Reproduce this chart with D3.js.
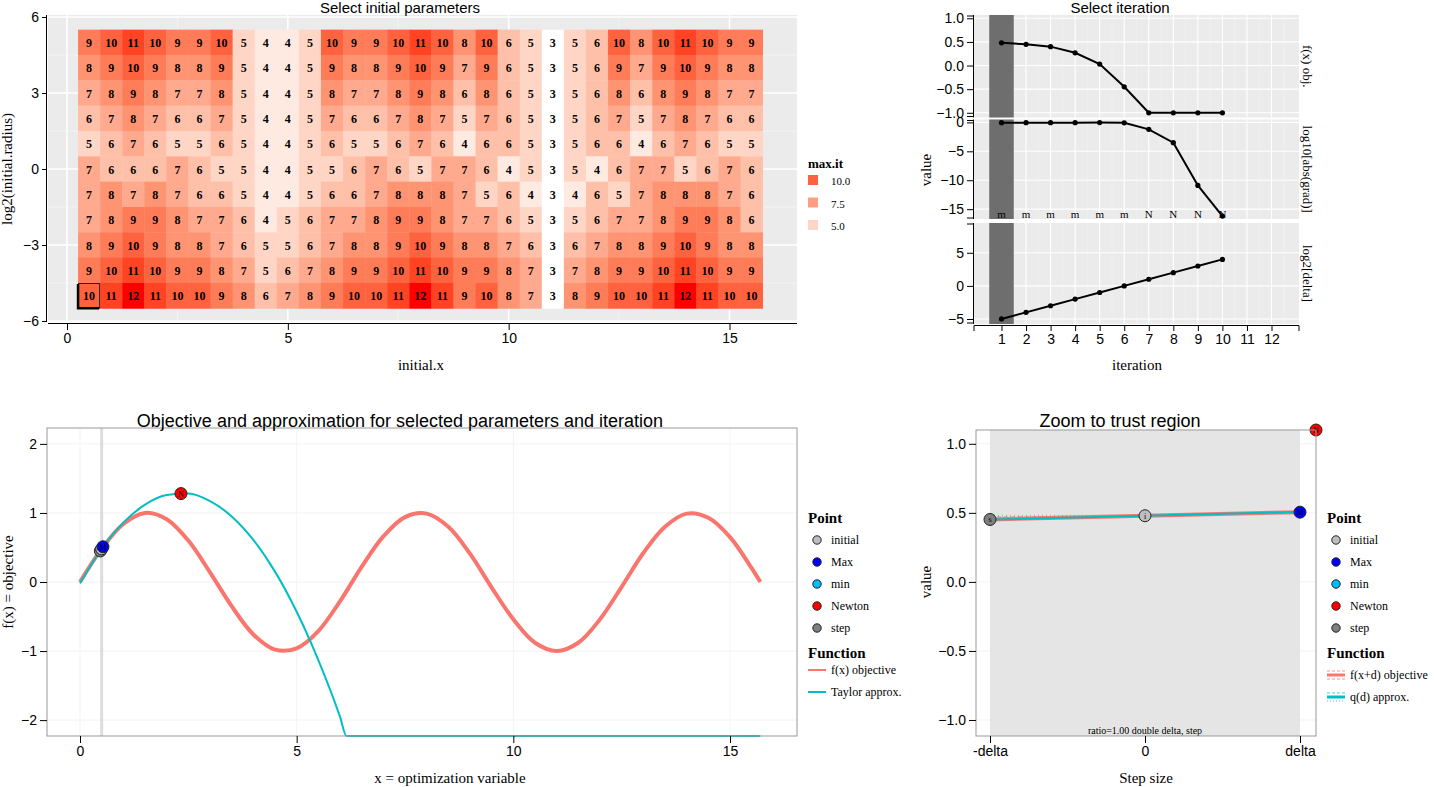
<!DOCTYPE html>
<html lang="en">
  <head>
    <meta charset="utf-8" />
    <title>Newton trust region</title>
    <script src="https://d3js.org/d3.v7.min.js"></script>
    <style>
      body { margin: 0; background: #fff; }
      svg text { fill: #000; }
      .axis path, .axis line { stroke: #000; }
      .axis text { font-family: "Liberation Sans", Arial, sans-serif; font-size: 14px; fill: #000; }
    </style>
  </head>
  <body>
    <div id="chart"></div>
    <script>
      // ---- heatmap data: max.it for each initial.x / log2(initial.radius)
      const initX = d3.range(31).map((i) => 0.5 + i * 0.5);
      const log2Radius = [5, 4, 3, 2, 1, 0, -1, -2, -3, -4, -5];
      const maxIt = [
        [9,10,11,10,9,9,10,5,4,4,5,10,9,9,10,11,10,8,10,6,5,3,5,6,10,8,10,11,10,9,9],
        [8,9,10,9,8,8,9,5,4,4,5,9,8,8,9,10,9,7,9,6,5,3,5,6,9,7,9,10,9,8,8],
        [7,8,9,8,7,7,8,5,4,4,5,8,7,7,8,9,8,6,8,6,5,3,5,6,8,6,8,9,8,7,7],
        [6,7,8,7,6,6,7,5,4,4,5,7,6,6,7,8,7,5,7,6,5,3,5,6,7,5,7,8,7,6,6],
        [5,6,7,6,5,5,6,5,4,4,5,6,5,5,6,7,6,4,6,6,5,3,5,6,6,4,6,7,6,5,5],
        [7,6,6,6,7,6,5,5,4,4,5,5,6,7,6,5,7,7,6,4,5,3,5,4,6,7,7,5,6,7,6],
        [7,8,7,8,7,6,6,5,4,4,5,6,6,7,8,8,8,7,5,6,4,3,4,6,5,7,8,8,8,7,6],
        [7,8,9,9,8,7,7,6,4,5,6,7,7,8,9,9,8,7,7,6,5,3,5,6,7,7,8,9,9,8,6],
        [8,9,10,9,8,8,7,6,5,5,6,7,8,8,9,10,9,8,8,7,6,3,6,7,8,8,9,10,9,8,8],
        [9,10,11,10,9,9,8,7,5,6,7,8,9,9,10,11,10,9,9,8,7,3,7,8,9,9,10,11,10,9,9],
        [10,11,12,11,10,10,9,8,6,7,8,9,10,10,11,12,11,9,10,8,7,3,8,9,10,10,11,12,11,10,10],
      ];
      const selected = { x: 0.5, y: -5, it: 1 };
      const legendMaxIt = [10, 7.5, 5];

      // ---- iteration panels
      const iterations = [1, 2, 3, 4, 5, 6, 7, 8, 9, 10];
      const fObj = [0.48, 0.45, 0.4, 0.27, 0.03, -0.45, -1.0, -1.0, -1.0, -1.0];
      const log10Grad = [-0.05, -0.05, -0.05, -0.05, -0.04, -0.07, -1.2, -3.5, -10.9, -16.2];
      const log2Delta = [-5, -4, -3, -2, -1, 0, 1, 2, 3, 4];
      const stepType = ["m", "m", "m", "m", "m", "m", "N", "N", "N", "N"];

      // ---- objective and Taylor approximation
      const objX = [0,0.5,1,1.5,2,2.5,3,3.5,4,4.5,5,5.5,6,6.5,7,7.5,8,8.5,9,9.5,10,10.5,11,11.5,12,12.5,13,13.5,14,14.5,15,15.5,15.7];
      const objY = [0,0.48,0.84,1.0,0.91,0.6,0.14,-0.35,-0.76,-0.98,-0.96,-0.71,-0.28,0.22,0.66,0.94,0.99,0.8,0.41,-0.08,-0.54,-0.88,-1.0,-0.88,-0.54,-0.07,0.42,0.8,0.99,0.93,0.65,0.2,0.0];
      const taylorX = [0,0.5,1,1.5,2,2.5,3,3.5,4,4.5,5,5.5,6,6.15,15.7];
      const taylorY = [-0.02,0.48,0.86,1.12,1.26,1.28,1.17,0.95,0.61,0.15,-0.43,-1.13,-1.95,-2.23,-2.23];

      const pointNames = ["initial", "Max", "min", "Newton", "step"];
      const pointColors = ["#BEBEBE", "#0000FF", "#00BFFF", "#FF0000", "#7F7F7F"];
      const pointLetters = ["i", "M", "m", "N", "s"];
      // points shown: [name, x, f]
      const mainPoints = [["step", 0.47, 0.45], ["initial", 0.5, 0.48], ["Max", 0.53, 0.51], ["Newton", 2.33, 1.28]];

      // ---- trust region zoom (d in units of delta)
      const zoomD = [-1, 0, 1];
      const zoomF = [0.452, 0.479, 0.505];
      const zoomQ = [0.451, 0.479, 0.507];
      const zoomPoints = [["step", -1, 0.452], ["initial", 0, 0.479], ["Max", 1, 0.505], ["Newton", 58.6, 1.28]];

      const W = 1434, H = 787;
      const svg = d3.select("#chart").append("svg").attr("width", W).attr("height", H);

      const serif = "Liberation Serif, Times New Roman, serif";
      const sans = "Liberation Sans, Arial, sans-serif";

      //----------------------------------------------------------------- heatmap
      const hx = d3.scaleLinear().domain([0, 15]).range([67, 729.5]);
      const hy = d3.scaleLinear().domain([6, -6]).range([17, 321]);
      const hp = { l: 48, r: 797, t: 15, b: 322 };
      svg.append("rect").attr("x", hp.l).attr("y", hp.t).attr("width", hp.r - hp.l).attr("height", hp.b - hp.t).attr("fill", "#EBEBEB");
      // grid
      [-4.5, -1.5, 1.5, 4.5].forEach((v) =>
        svg.append("line").attr("x1", hp.l).attr("x2", hp.r).attr("y1", hy(v)).attr("y2", hy(v)).attr("stroke", "#F5F5F5").attr("stroke-width", 0.8));
      [2.5, 7.5, 12.5].forEach((v) =>
        svg.append("line").attr("y1", hp.t).attr("y2", hp.b).attr("x1", hx(v)).attr("x2", hx(v)).attr("stroke", "#F5F5F5").attr("stroke-width", 0.8));
      [-6, -3, 0, 3, 6].forEach((v) =>
        svg.append("line").attr("x1", hp.l).attr("x2", hp.r).attr("y1", hy(v)).attr("y2", hy(v)).attr("stroke", "#fff").attr("stroke-width", 1.5));
      [0, 5, 10, 15].forEach((v) =>
        svg.append("line").attr("y1", hp.t).attr("y2", hp.b).attr("x1", hx(v)).attr("x2", hx(v)).attr("stroke", "#fff").attr("stroke-width", 1.5));

      const fill = d3.scaleLinear().domain([3, 12]).range(["#FFFFFF", "#FF0000"]).interpolate(d3.interpolateLab);
      const cw = hx(0.5) - hx(0), ch = hy(0) - hy(1);
      const cells = [];
      log2Radius.forEach((yv, r) => initX.forEach((xv, c) => cells.push({ x: xv, y: yv, v: maxIt[r][c] })));
      const cg = svg.append("g");
      cg.selectAll("rect").data(cells).enter().append("rect")
        .attr("x", (d) => hx(d.x) - cw / 2).attr("y", (d) => hy(d.y) - ch / 2)
        .attr("width", cw + 0.4).attr("height", ch + 0.4)
        .attr("fill", (d) => fill(d.v));
      cg.selectAll("text").data(cells).enter().append("text")
        .attr("x", (d) => hx(d.x)).attr("y", (d) => hy(d.y) + 4.5)
        .attr("text-anchor", "middle").style("font-family", serif).style("font-weight", "bold")
        .style("font-size", "12px").text((d) => d.v);
      // selected cell
      svg.append("rect").attr("x", hx(selected.x) - cw / 2 + 0.5).attr("y", hy(selected.y) - ch / 2 + 0.5)
        .attr("width", cw - 1).attr("height", ch - 1).attr("fill", "none").attr("stroke", "#222").attr("stroke-width", 1);
      svg.append("path")
        .attr("d", `M${hx(selected.x) - cw / 2},${hy(selected.y) - ch / 2 + 1}V${hy(selected.y) + ch / 2}H${hx(selected.x) + cw / 2 - 1}`)
        .attr("fill", "none").attr("stroke", "#000").attr("stroke-width", 2.5);

      svg.append("g").attr("class", "axis").attr("transform", `translate(0,${hp.b + 1})`)
        .call(d3.axisBottom(hx).tickValues([0, 5, 10, 15]).tickSize(7).tickSizeOuter(0))
        .call((g) => g.select(".domain").attr("d", `M${hp.l},0.5H${hp.r}`));
      svg.append("g").attr("class", "axis").attr("transform", `translate(${hp.l - 1},0)`)
        .call(d3.axisLeft(hy).tickValues([6, 3, 0, -3, -6]).tickSize(5).tickSizeOuter(0))
        .call((g) => g.select(".domain").attr("d", `M-0.5,${hp.t}V${hp.b}`));

      svg.append("text").attr("x", 400).attr("y", 13).attr("text-anchor", "middle").style("font-family", sans).style("font-size", "15px").text("Select initial parameters");
      svg.append("text").attr("x", 421).attr("y", 370).attr("text-anchor", "middle").style("font-family", serif).style("font-size", "15px").text("initial.x");
      svg.append("text").attr("transform", "translate(12,169) rotate(-90)").attr("text-anchor", "middle").style("font-family", serif).style("font-size", "15px").text("log2(initial.radius)");

      // legend max.it
      svg.append("text").attr("x", 808).attr("y", 168).style("font-family", serif).style("font-weight", "bold").style("font-size", "13px").text("max.it");
      legendMaxIt.forEach((v, i) => {
        svg.append("rect").attr("x", 808).attr("y", 175 + i * 22.5).attr("width", 10).attr("height", 10).attr("fill", fill(v));
        svg.append("text").attr("x", 831).attr("y", 185 + i * 22.5).style("font-family", serif).style("font-size", "11px").text(v.toFixed(1));
      });

      //----------------------------------------------------------------- iteration panels
      const ix = d3.scaleLinear().domain([-0.12, 13.12]).range([974, 1299]);
      const panels = [
        { name: "f(x) obj.", vals: fObj, t: 15, b: 117.5, dom: [-1.1, 1.07], ticks: [1, 0.5, 0, -0.5, -1], fmt: d3.format(".1f") },
        { name: "log10[abs(grad)]", vals: log10Grad, t: 119.5, b: 219, dom: [-16.7, 0.5], ticks: [0, -5, -10, -15], fmt: d3.format("d") },
        { name: "log2[delta]", vals: log2Delta, t: 223, b: 324, dom: [-5.76, 9.5], ticks: [5, 0, -5], fmt: d3.format("d") },
      ];
      const line = d3.line();
      panels.forEach((p, pi) => {
        const y = d3.scaleLinear().domain(p.dom).range([p.b, p.t]);
        svg.append("rect").attr("x", 974).attr("y", p.t).attr("width", 325).attr("height", p.b - p.t).attr("fill", "#EBEBEB");
        d3.range(0.5, 13, 1).forEach((v) =>
          svg.append("line").attr("x1", ix(v)).attr("x2", ix(v)).attr("y1", p.t).attr("y2", p.b).attr("stroke", "#F4F4F4").attr("stroke-width", 0.6));
        d3.range(1, 13).forEach((v) =>
          svg.append("line").attr("x1", ix(v)).attr("x2", ix(v)).attr("y1", p.t).attr("y2", p.b).attr("stroke", "#fff").attr("stroke-width", 1.1));
        p.ticks.forEach((v) =>
          svg.append("line").attr("x1", 974).attr("x2", 1299).attr("y1", y(v)).attr("y2", y(v)).attr("stroke", "#fff").attr("stroke-width", 1.1));
        // selected iteration band
        svg.append("rect").attr("x", ix(selected.it - 0.5)).attr("y", p.t).attr("width", ix(1) - ix(0)).attr("height", p.b - p.t).attr("fill", "#6E6E6E");
        const pts = iterations.map((it, i) => [ix(it), y(p.vals[i])]);
        svg.append("path").attr("d", line(pts)).attr("fill", "none").attr("stroke", "#000").attr("stroke-width", 2);
        svg.selectAll(null).data(pts).enter().append("circle").attr("cx", (d) => d[0]).attr("cy", (d) => d[1]).attr("r", 2.6).attr("fill", "#000");
        svg.append("g").attr("class", "axis").attr("transform", "translate(973,0)")
          .call(d3.axisLeft(y).tickValues(p.ticks).tickFormat(p.fmt).tickSize(6).tickSizeOuter(0))
          .call((g) => g.select(".domain").attr("d", `M0.5,${p.t}V${p.b}`));
        [p.t + 1, p.b - 1].forEach((v) =>
          svg.append("line").attr("x1", 967).attr("x2", 974).attr("y1", v).attr("y2", v).attr("stroke", "#000"));
        svg.append("text").attr("transform", `translate(1303,${(p.t + p.b) / 2}) rotate(90)`).attr("text-anchor", "middle")
          .style("font-family", serif).style("font-size", "13px").text(p.name);
        if (pi === 1) {
          svg.selectAll(null).data(stepType).enter().append("text")
            .attr("x", (d, i) => ix(iterations[i])).attr("y", p.b - 1).attr("text-anchor", "middle")
            .style("font-family", serif).style("font-size", "11px").text((d) => d);
        }
      });
      svg.append("g").attr("class", "axis").attr("transform", "translate(0,325)")
        .call(d3.axisBottom(ix).tickValues(d3.range(1, 13)).tickSize(6).tickSizeOuter(6))
        .call((g) => g.select(".domain").attr("d", "M974,6V0.5H1299V6"));
      svg.append("text").attr("x", 1120).attr("y", 13).attr("text-anchor", "middle").style("font-family", sans).style("font-size", "15px").text("Select iteration");
      svg.append("text").attr("x", 1137).attr("y", 370).attr("text-anchor", "middle").style("font-family", serif).style("font-size", "15px").text("iteration");
      svg.append("text").attr("transform", "translate(931,170) rotate(-90)").attr("text-anchor", "middle").style("font-family", serif).style("font-size", "15px").text("value");

      //----------------------------------------------------------------- helper for point markers
      function drawPoint(g, cx, cy, name) {
        const k = pointNames.indexOf(name);
        g.append("circle").attr("cx", cx).attr("cy", cy).attr("r", 6).attr("fill", pointColors[k]).attr("stroke", "#222").attr("stroke-width", 1);
        g.append("text").attr("x", cx).attr("y", cy + 3).attr("text-anchor", "middle").style("font-family", serif).style("font-size", "8px").text(pointLetters[k]);
      }
      function legend(x0, keyType) {
        svg.append("text").attr("x", x0).attr("y", 523).style("font-family", serif).style("font-weight", "bold").style("font-size", "15px").text("Point");
        pointNames.forEach((n, i) => {
          svg.append("circle").attr("cx", x0 + 9).attr("cy", 540 + i * 22).attr("r", 4.2).attr("fill", pointColors[i]).attr("stroke", "#222").attr("stroke-width", 1);
          svg.append("text").attr("x", x0 + 23).attr("y", 544 + i * 22).style("font-family", serif).style("font-size", "12px").text(n);
        });
        svg.append("text").attr("x", x0).attr("y", 658).style("font-family", serif).style("font-weight", "bold").style("font-size", "15px").text("Function");
        const labels = keyType ? ["f(x+d) objective", "q(d) approx."] : ["f(x) objective", "Taylor approx."];
        const cols = ["#F8766D", "#00BFC4"];
        labels.forEach((l, i) => {
          const yy = (keyType ? 675 : 670) + i * 22;
          if (keyType) {
            svg.append("line").attr("x1", x0).attr("x2", x0 + 18).attr("y1", yy - 4).attr("y2", yy - 4).attr("stroke", cols[i]).attr("stroke-opacity", 0.5).attr("stroke-dasharray", "3,2").attr("stroke-width", 1.5);
            svg.append("line").attr("x1", x0).attr("x2", x0 + 18).attr("y1", yy + 4).attr("y2", yy + 4).attr("stroke", cols[i]).attr("stroke-opacity", 0.5).attr("stroke-dasharray", i ? "1,2" : "3,2").attr("stroke-width", 1.5);
          }
          svg.append("line").attr("x1", x0).attr("x2", x0 + 18).attr("y1", yy).attr("y2", yy).attr("stroke", cols[i]).attr("stroke-width", keyType ? 3 : 2);
          svg.append("text").attr("x", x0 + 23).attr("y", yy + 4).style("font-family", serif).style("font-size", "12px").text(l);
        });
      }

      //----------------------------------------------------------------- objective plot
      const ox = d3.scaleLinear().domain([0, 15]).range([80, 730]);
      const oy = d3.scaleLinear().domain([-2.23, 2.23]).range([736, 428]);
      const op = { l: 47, r: 797, t: 428, b: 736 };
      const og = svg.append("g");
      [-2, -1, 0, 1, 2].forEach((v) => og.append("line").attr("x1", op.l).attr("x2", op.r).attr("y1", oy(v)).attr("y2", oy(v)).attr("stroke", "#F3F3F3"));
      [0, 5, 10, 15].forEach((v) => og.append("line").attr("y1", op.t).attr("y2", op.b).attr("x1", ox(v)).attr("x2", ox(v)).attr("stroke", "#F3F3F3"));
      og.append("line").attr("x1", ox(selected.x)).attr("x2", ox(selected.x)).attr("y1", op.t).attr("y2", op.b).attr("stroke", "#DDDDDD").attr("stroke-width", 3);
      const cl = d3.line().curve(d3.curveCatmullRom);
      og.append("path").attr("d", cl(objX.map((x, i) => [ox(x), oy(objY[i])]))).attr("fill", "none").attr("stroke", "#F8766D").attr("stroke-width", 4);
      og.append("path").attr("d", d3.line().curve(d3.curveMonotoneX)(taylorX.map((x, i) => [ox(x), oy(taylorY[i])]))).attr("fill", "none").attr("stroke", "#00BFC4").attr("stroke-width", 2);
      mainPoints.forEach((p) => drawPoint(og, ox(p[1]), oy(p[2]), p[0]));
      svg.append("rect").attr("x", op.l).attr("y", op.t).attr("width", op.r - op.l).attr("height", op.b - op.t).attr("fill", "none").attr("stroke", "#999").attr("stroke-width", 1);
      svg.append("g").attr("class", "axis").attr("transform", `translate(0,${op.b})`)
        .call(d3.axisBottom(ox).tickValues([0, 5, 10, 15]).tickSize(7).tickSizeOuter(0))
        .call((g) => g.select(".domain").remove());
      svg.append("g").attr("class", "axis").attr("transform", `translate(${op.l},0)`)
        .call(d3.axisLeft(oy).tickValues([2, 1, 0, -1, -2]).tickFormat(d3.format("d")).tickSize(7).tickSizeOuter(0))
        .call((g) => g.select(".domain").remove());
      svg.append("text").attr("x", 400).attr("y", 427).attr("text-anchor", "middle").style("font-family", sans).style("font-size", "18px").text("Objective and approximation for selected parameters and iteration");
      svg.append("text").attr("x", 450).attr("y", 783).attr("text-anchor", "middle").style("font-family", serif).style("font-size", "15px").text("x = optimization variable");
      svg.append("text").attr("transform", "translate(13,582) rotate(-90)").attr("text-anchor", "middle").style("font-family", serif).style("font-size", "15px").text("f(x) = objective");
      legend(808, false);

      //----------------------------------------------------------------- trust region zoom
      const zx = d3.scaleLinear().domain([-1, 1]).range([990, 1300]);
      const zy = d3.scaleLinear().domain([-1.116, 1.1]).range([736, 430]);
      const zp = { l: 976, r: 1316, t: 430, b: 736 };
      const zg = svg.append("g");
      [-1, -0.5, 0, 0.5, 1].forEach((v) => zg.append("line").attr("x1", zp.l).attr("x2", zp.r).attr("y1", zy(v)).attr("y2", zy(v)).attr("stroke", "#F3F3F3"));
      zg.append("rect").attr("x", zx(-1)).attr("y", zp.t).attr("width", zx(1) - zx(-1)).attr("height", zp.b - zp.t).attr("fill", "#E5E5E5");
      // step comparison (dashed) from -delta to 0
      zg.append("line").attr("x1", zx(-1)).attr("x2", zx(0)).attr("y1", zy(0.468)).attr("y2", zy(0.475)).attr("stroke", "#F8766D").attr("stroke-opacity", 0.6).attr("stroke-dasharray", "4,3").attr("stroke-width", 2);
      zg.append("line").attr("x1", zx(-1)).attr("x2", zx(0)).attr("y1", zy(0.48)).attr("y2", zy(0.478)).attr("stroke", "#00BFC4").attr("stroke-opacity", 0.6).attr("stroke-dasharray", "1,3").attr("stroke-width", 2);
      const zl = d3.line();
      zg.append("path").attr("d", zl(zoomD.map((d, i) => [zx(d), zy(zoomF[i])]))).attr("fill", "none").attr("stroke", "#F8766D").attr("stroke-width", 4);
      zg.append("path").attr("d", zl(zoomD.map((d, i) => [zx(d), zy(zoomQ[i])]))).attr("fill", "none").attr("stroke", "#00BFC4").attr("stroke-width", 2);
      zoomPoints.forEach((p) => {
        const cx = Math.min(zx(p[1]), zp.r), cy = Math.max(zy(p[2]), zp.t);
        drawPoint(zg, cx, cy, p[0]);
      });
      zg.append("text").attr("x", zx(0)).attr("y", 734).attr("text-anchor", "middle").style("font-family", serif).style("font-size", "10px").text("ratio=1.00 double delta, step");
      svg.append("rect").attr("x", zp.l).attr("y", zp.t).attr("width", zp.r - zp.l).attr("height", zp.b - zp.t).attr("fill", "none").attr("stroke", "#999").attr("stroke-width", 1);
      svg.append("g").attr("class", "axis").attr("transform", `translate(0,${zp.b})`)
        .call(d3.axisBottom(zx).tickValues([-1, 0, 1]).tickFormat((d) => (d === -1 ? "-delta" : d === 1 ? "delta" : "0")).tickSize(7).tickSizeOuter(0))
        .call((g) => g.select(".domain").remove());
      svg.append("g").attr("class", "axis").attr("transform", `translate(${zp.l},0)`)
        .call(d3.axisLeft(zy).tickValues([1, 0.5, 0, -0.5, -1]).tickFormat(d3.format(".1f")).tickSize(7).tickSizeOuter(0))
        .call((g) => g.select(".domain").remove());
      svg.append("text").attr("x", 1120).attr("y", 427).attr("text-anchor", "middle").style("font-family", sans).style("font-size", "18px").text("Zoom to trust region");
      svg.append("text").attr("x", 1146).attr("y", 783).attr("text-anchor", "middle").style("font-family", serif).style("font-size", "15px").text("Step size");
      svg.append("text").attr("transform", "translate(931,582) rotate(-90)").attr("text-anchor", "middle").style("font-family", serif).style("font-size", "15px").text("value");
      legend(1327, true);
    </script>
  </body>
</html>
